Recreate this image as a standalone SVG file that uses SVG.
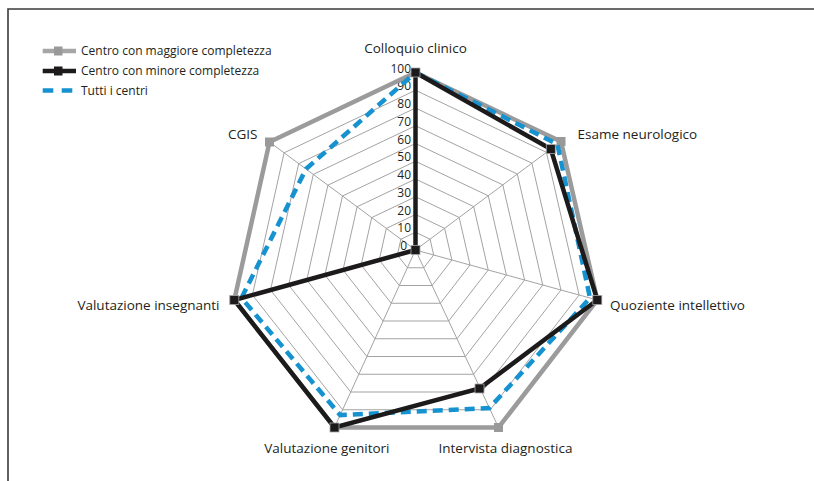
<svg xmlns="http://www.w3.org/2000/svg" width="814" height="481" viewBox="0 0 814 481">
<style>
.frame{fill:none;stroke:#3a3a3a;stroke-width:1.6}
.grid{fill:none;stroke:#a3a3a3;stroke-width:1}
.sg{fill:none;stroke:#9b9b9b;stroke-width:4.5;stroke-linejoin:miter}
.sk{fill:none;stroke:#1c1a1b;stroke-width:4.5;stroke-linejoin:miter}
.sb{fill:none;stroke:#1592cf;stroke-width:4.5;stroke-dasharray:10 6}
.mg{fill:#999999}
.mk{fill:#1c1a1b;stroke:#a8a8a8;stroke-width:0.8}
.lbl{font-family:"Open Sans","Noto Sans","Liberation Sans",sans-serif;font-size:13.5px;fill:#231f20}
.num{font-family:"Open Sans","Noto Sans","Liberation Sans",sans-serif;font-size:12px;fill:#231f20;text-anchor:end}
.leg{font-family:"Open Sans","Noto Sans","Liberation Sans",sans-serif;font-size:12px;fill:#231f20}
</style>
<rect width="814" height="481" fill="#ffffff"/>
<path class="frame" d="M8,481 L8,9 L814,9"/>

<g id="grid">
<polygon class="grid" points="415.5,232.25 430.05,239.15 433.68,255 423.8,267.75 407.4,267.75 397.38,255 400.9,239.2"/>
<polygon class="grid" points="415.5,214.5 444.6,228.3 451.86,260 432.1,285.5 399.3,285.5 379.26,260 386.3,228.4"/>
<polygon class="grid" points="415.5,196.75 459.15,217.45 470.04,265 440.4,303.25 391.2,303.25 361.14,265 371.7,217.6"/>
<polygon class="grid" points="415.5,179 473.7,206.6 488.22,270 448.7,321 383.1,321 343.02,270 357.1,206.8"/>
<polygon class="grid" points="415.5,161.25 488.25,195.75 506.4,275 457,338.75 375,338.75 324.9,275 342.5,196"/>
<polygon class="grid" points="415.5,143.5 502.8,184.9 524.58,280 465.3,356.5 366.9,356.5 306.78,280 327.9,185.2"/>
<polygon class="grid" points="415.5,125.75 517.35,174.05 542.76,285 473.6,374.25 358.8,374.25 288.66,285 313.3,174.4"/>
<polygon class="grid" points="415.5,108 531.9,163.2 560.94,290 481.9,392 350.7,392 270.54,290 298.7,163.6"/>
<polygon class="grid" points="415.5,90.25 546.45,152.35 579.12,295 490.2,409.75 342.6,409.75 252.42,295 284.1,152.8"/>
<polygon class="grid" points="415.5,72.5 561,141.5 597.3,300 498.5,427.5 334.5,427.5 234.3,300 269.5,142"/>
<path class="grid" d="M415.5,250 L415.5,72.5 M415.5,250 L561,141.5 M415.5,250 L597.3,300 M415.5,250 L498.5,427.5 M415.5,250 L334.5,427.5 M415.5,250 L234.3,300 M415.5,250 L269.5,142"/>
</g>

<g id="scale">
<text class="num" x="411" y="72.5">100</text>
<text class="num" x="411" y="90.25">90</text>
<text class="num" x="411" y="108">80</text>
<text class="num" x="411" y="125.75">70</text>
<text class="num" x="411" y="143.5">60</text>
<text class="num" x="411" y="161.25">50</text>
<text class="num" x="411" y="179">40</text>
<text class="num" x="411" y="196.75">30</text>
<text class="num" x="411" y="214.5">20</text>
<text class="num" x="411" y="232.25">10</text>
<text class="num" x="407" y="250">0</text>
</g>

<g id="series-maggiore">
<polygon class="sg" points="415.5,72.5 561,141.5 597.3,300 498.5,427.5 334.5,427.5 234.3,300 269.5,142"/>
<rect class="mg" x="411" y="68" width="9" height="9"/>
<rect class="mg" x="556.5" y="137" width="9" height="9"/>
<rect class="mg" x="592.8" y="295.5" width="9" height="9"/>
<rect class="mg" x="494" y="423" width="9" height="9"/>
<rect class="mg" x="330" y="423" width="9" height="9"/>
<rect class="mg" x="229.8" y="295.5" width="9" height="9"/>
<rect class="mg" x="265" y="137.5" width="9" height="9"/>
</g>

<g id="series-tutti">
<polygon class="sb" points="415.5,72.5 557.4,144.2 590,298 489.4,408 340.2,415.1 241.5,298 306,169"/>
</g>

<g id="series-minore">
<polygon class="sk" points="415.5,72.5 550.8,149.1 597.3,300 479.5,388.5 334.5,427.5 234.3,300 415.5,250"/>
<rect class="mk" x="411" y="68" width="9" height="9"/>
<rect class="mk" x="546.3" y="144.6" width="9" height="9"/>
<rect class="mk" x="592.8" y="295.5" width="9" height="9"/>
<rect class="mk" x="475" y="384" width="9" height="9"/>
<rect class="mk" x="330" y="423" width="9" height="9"/>
<rect class="mk" x="229.8" y="295.5" width="9" height="9"/>
<rect class="mk" x="411" y="245.5" width="9" height="9"/>
</g>

<g id="axis-labels">
<text class="lbl" x="415.5" y="53" text-anchor="middle">Colloquio clinico</text>
<text class="lbl" x="577.5" y="138.5">Esame neurologico</text>
<text class="lbl" x="610" y="310">Quoziente intellettivo</text>
<text class="lbl" x="438.5" y="453">Intervista diagnostica</text>
<text class="lbl" x="389.5" y="453" text-anchor="end">Valutazione genitori</text>
<text class="lbl" x="219.5" y="310" text-anchor="end">Valutazione insegnanti</text>
<text class="lbl" x="257.5" y="138.5" text-anchor="end">CGIS</text>
</g>

<g id="legend">
<line x1="42.7" y1="51" x2="76" y2="51" stroke="#a6a6a6" stroke-width="4.5"/>
<rect class="mg" x="54" y="46.5" width="8.5" height="9"/>
<text class="leg" x="81" y="55.3">Centro con maggiore completezza</text>
<line x1="42.7" y1="71" x2="76" y2="71" stroke="#1c1a1b" stroke-width="4.5"/>
<rect x="54" y="66.5" width="8.5" height="9" fill="#1c1a1b"/>
<text class="leg" x="81" y="75.3">Centro con minore completezza</text>
<line x1="42.7" y1="90.5" x2="73.5" y2="90.5" stroke="#1592cf" stroke-width="4.5" stroke-dasharray="10.6 8.4"/>
<text class="leg" x="81" y="94.8">Tutti i centri</text>
</g>
</svg>
